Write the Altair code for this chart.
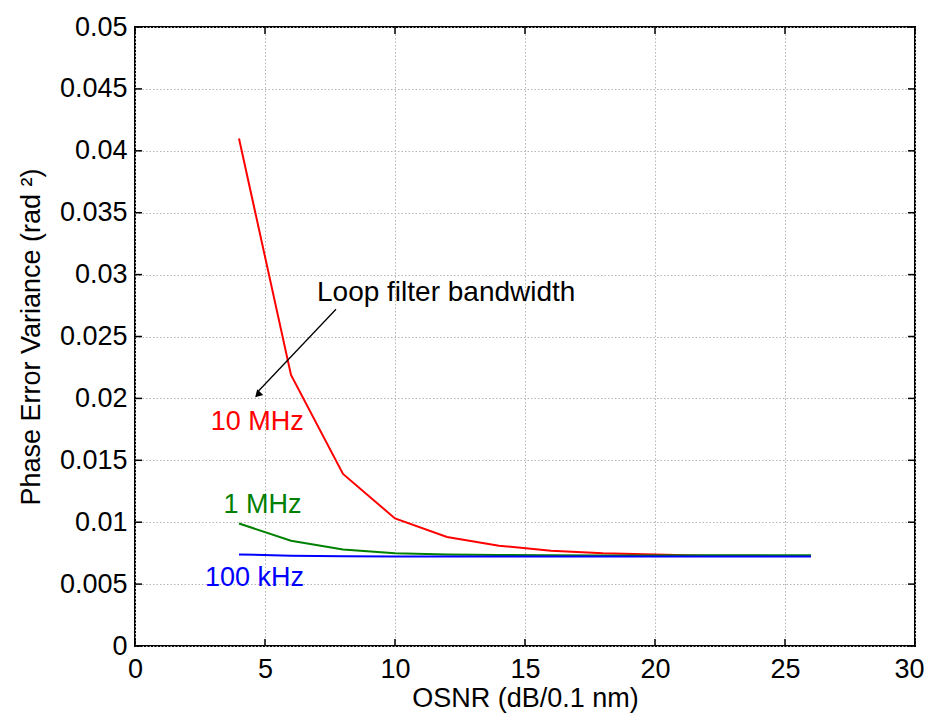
import altair as alt
import pandas as pd

osnr = [4, 6, 8, 10, 12, 14, 16, 18, 20, 22, 24, 26]
var_10mhz = [0.0410, 0.0219, 0.0139, 0.0103, 0.0088, 0.0081, 0.0077, 0.0075, 0.0074, 0.0073, 0.00728, 0.00727]
var_1mhz = [0.0099, 0.0085, 0.0078, 0.0075, 0.0074, 0.00735, 0.00733, 0.00732, 0.00732, 0.00733, 0.00733, 0.00734]
var_100khz = [0.0074, 0.00730, 0.00725, 0.00723, 0.00722, 0.00722, 0.00722, 0.00722, 0.00722, 0.00722, 0.00722, 0.00722]
series_names = ["10 MHz", "1 MHz", "100 kHz"]
series_colors = ["#ff0000", "#008000", "#0000ff"]

label_x = [4.7, 4.9, 4.6]
label_y = [0.0181, 0.0114, 0.0055]

note_text = ["Loop filter bandwidth"]
note_x = [7.0]
note_y = [0.0285]
arrow_x = [7.73, 4.75]
arrow_y = [0.0272, 0.0206]
head_x = [4.72]
head_y = [0.0203]

x_ticks = [0, 5, 10, 15, 20, 25, 30]
y_ticks = [0, 0.005, 0.01, 0.015, 0.02, 0.025, 0.03, 0.035, 0.04, 0.045, 0.05]

W, H = 780, 619
FONT = "Liberation Sans"
FS = 27

rows = []
for name, vals in zip(series_names, [var_10mhz, var_1mhz, var_100khz]):
    for xv, yv in zip(osnr, vals):
        rows.append({"osnr": xv, "var": yv, "series": name})
df = pd.DataFrame(rows)

xscale = alt.Scale(domain=[0, 30], nice=False)
yscale = alt.Scale(domain=[0, 0.05], nice=False)
color = alt.Color("series:N", scale=alt.Scale(domain=series_names, range=series_colors), legend=None)

lines = alt.Chart(df).mark_line(strokeWidth=2).encode(
    x=alt.X("osnr:Q", scale=xscale,
            axis=alt.Axis(title="OSNR (dB/0.1 nm)", values=x_ticks, grid=True, ticks=False,
                          domain=False, labelPadding=10, titlePadding=3, labelFlush=False,
                          labelAlign=alt.ExprRef(expr="datum.value == 30 ? 'right' : 'center'"),
                          labelOffset=alt.ExprRef(expr="datum.value == 30 ? 9 : 0"))),
    y=alt.Y("var:Q", scale=yscale,
            axis=alt.Axis(title="Phase Error Variance (rad ²)", values=y_ticks, grid=True, ticks=False,
                          domain=False, labelPadding=8, titlePadding=14, format="~g", labelFlush=False)),
    color=color,
    detail="series:N",
)

labels_df = pd.DataFrame({"x": label_x, "y": label_y, "series": series_names})
labels = alt.Chart(labels_df).mark_text(fontSize=FS, font=FONT).encode(
    x=alt.X("x:Q", scale=xscale), y=alt.Y("y:Q", scale=yscale), text="series:N", color=color)

note = alt.Chart(pd.DataFrame({"x": note_x, "y": note_y, "t": note_text})).mark_text(
    fontSize=FS + 1, font=FONT, align="left", color="black").encode(
    x=alt.X("x:Q", scale=xscale), y=alt.Y("y:Q", scale=yscale), text="t:N")

shaft = alt.Chart(pd.DataFrame({"x": arrow_x, "y": arrow_y, "o": [0, 1]})).mark_line(
    color="black", strokeWidth=1.3).encode(
    x=alt.X("x:Q", scale=xscale), y=alt.Y("y:Q", scale=yscale), order="o:Q")

head = alt.Chart(pd.DataFrame({"x": head_x, "y": head_y})).mark_point(
    shape="triangle-up", filled=True, color="black", size=70, angle=224, opacity=1).encode(
    x=alt.X("x:Q", scale=xscale), y=alt.Y("y:Q", scale=yscale))

ydf = pd.DataFrame({"y": y_ticks})
xdf = pd.DataFrame({"x": x_ticks})
tl = alt.Chart(ydf).mark_rule(color="black", strokeWidth=1.5).encode(
    y=alt.Y("y:Q", scale=yscale), x=alt.value(0), x2=alt.value(7))
tr = alt.Chart(ydf).mark_rule(color="black", strokeWidth=1.5).encode(
    y=alt.Y("y:Q", scale=yscale), x=alt.value(W), x2=alt.value(W - 7))
tb = alt.Chart(xdf).mark_rule(color="black", strokeWidth=1.5).encode(
    x=alt.X("x:Q", scale=xscale), y=alt.value(H), y2=alt.value(H - 7))
tt = alt.Chart(xdf).mark_rule(color="black", strokeWidth=1.5).encode(
    x=alt.X("x:Q", scale=xscale), y=alt.value(0), y2=alt.value(7))

chart = alt.layer(tl, tr, tb, tt, lines, labels, note, shaft, head).properties(
    width=W, height=H,
    autosize=alt.AutoSizeParams(type="none"),
    padding={"left": 127, "top": 19, "right": 10, "bottom": 71},
    background="white",
).configure_view(stroke="black", strokeWidth=2).configure_axis(
    labelFont=FONT, titleFont=FONT, labelFontSize=FS, titleFontSize=FS,
    labelColor="black", titleColor="black", titleFontWeight="normal",
    gridColor="#b5b5b5", gridDash=[1.5, 2], gridWidth=1,
)

chart.save("out.html", embed_options={"renderer": "svg", "actions": False})
